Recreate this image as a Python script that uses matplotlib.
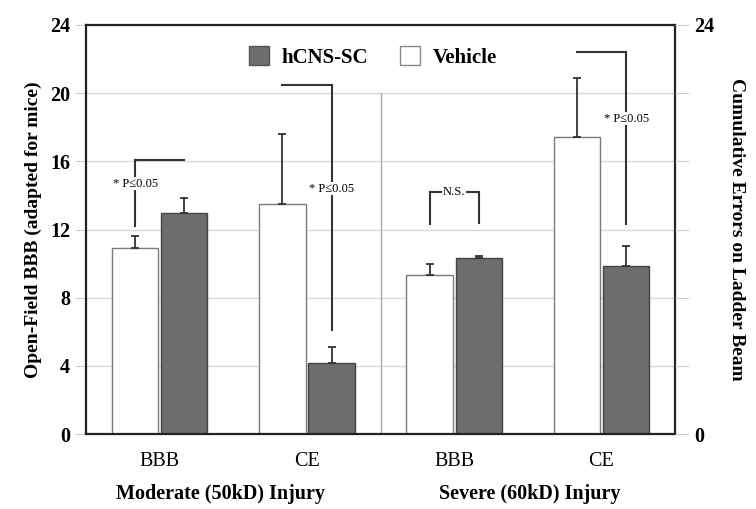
import numpy as np
import matplotlib
matplotlib.use("Agg")
import matplotlib.pyplot as plt
from matplotlib.patches import Patch

plt.rcParams['font.family'] = ['Liberation Serif', 'DejaVu Serif']

# data
tests = ["BBB", "CE", "BBB", "CE"]
injuries = ["Moderate (50kD) Injury", "Severe (60kD) Injury"]
injury_pos = [0.41, 2.515]
vehicle = [10.9, 13.5, 9.35, 17.4]
vehicle_err = [0.7, 4.1, 0.65, 3.5]
hcns = [13.0, 4.15, 10.35, 9.85]
hcns_err = [0.85, 0.95, 0.1, 1.2]

# significance brackets: (group, label, y of horizontal, y of left end, y of right end, y of text)
brackets = [
    (0, "* P\u22640.05", 16.1, 12.2, None, 14.7),
    (1, "* P\u22640.05", 20.5, None, 6.1, 14.4),
    (2, "N.S.", 14.2, 12.3, 12.4, 14.2),
    (3, "* P\u22640.05", 22.4, None, 12.3, 18.5),
]

GRAY = "#6d6d6d"
x = np.arange(len(tests))
w = 0.315
off = 0.167

fig, ax = plt.subplots(figsize=(7.56, 5.09), dpi=100)
fig.subplots_adjust(left=0.1138, right=0.893, top=0.951, bottom=0.147)

ax.set_axisbelow(True)
ax.yaxis.grid(True, color="#d9d9d9", linewidth=1.0)

ax.bar(x - off, vehicle, w, color="white", edgecolor="#7a7a7a", linewidth=1.0,
       yerr=[np.zeros(4), vehicle_err], capsize=3,
       error_kw=dict(ecolor="#333333", elinewidth=1.3, capthick=1.3))
ax.bar(x + off, hcns, w, color=GRAY, edgecolor="#444444", linewidth=1.0,
       yerr=[np.zeros(4), hcns_err], capsize=3,
       error_kw=dict(ecolor="#333333", elinewidth=1.3, capthick=1.3))

# separator between the two injury groups
ax.plot([1.5, 1.5], [0, 20], color="#aaaaaa", linewidth=1.0, zorder=1)

for g, lab, ytop, yl, yr, yt in brackets:
    xl, xr = g - off, g + off
    ax.plot([xl, xr], [ytop, ytop], color="#333333", linewidth=1.5)
    if yl is not None:
        ax.plot([xl, xl], [yl, ytop], color="#333333", linewidth=1.5)
    if yr is not None:
        ax.plot([xr, xr], [yr, ytop], color="#333333", linewidth=1.5)
    tx = g if lab == "N.S." else (xl if yl is not None else xr)
    ax.text(tx, yt, lab, ha="center", va="center", fontsize=9,
            bbox=dict(facecolor="white", edgecolor="none", pad=0.5))

ax.set_xlim(-0.5, 3.5)
ax.set_ylim(0, 24)
ax.set_yticks(np.arange(0, 25, 4))
ax.set_xticks(x)
ax.set_xticklabels(tests, fontsize=14.5)
ax.tick_params(axis="x", length=0, pad=13)
ax.tick_params(axis="y", direction="out", length=8, color="#d0d0d0", labelsize=14.5)
for t in ax.get_yticklabels():
    t.set_fontweight("bold")

for s in ax.spines.values():
    s.set_linewidth(1.6)
    s.set_color("#222222")

ax.set_ylabel("Open-Field BBB (adapted for mice)", fontsize=14, fontweight="bold", labelpad=6)

for name, pos in zip(injuries, injury_pos):
    ax.text(pos, -0.147, name, transform=ax.get_xaxis_transform(),
            ha="center", va="center", fontsize=14.5, fontweight="bold")

ax2 = ax.twinx()
ax2.set_ylim(0, 24)
ax2.set_yticks(np.arange(0, 25, 4))
ax2.set_yticklabels(["0", "", "", "", "", "", "24"])
ax2.tick_params(axis="y", direction="out", length=10, color="#d0d0d0", labelsize=14.5)
for t in ax2.get_yticklabels():
    t.set_fontweight("bold")
for s in ax2.spines.values():
    s.set_visible(False)
ax2.set_ylabel("Cumulative Errors on Ladder Beam", fontsize=14, fontweight="bold",
               rotation=-90, labelpad=22)

handles = [Patch(facecolor=GRAY, edgecolor="#555555", label="hCNS-SC"),
           Patch(facecolor="white", edgecolor="#888888", label="Vehicle")]
ax.legend(handles=handles, loc="center", bbox_to_anchor=(0.487, 0.922), ncol=2,
          frameon=False, prop=dict(weight="bold", size=15), handlelength=1.0,
          handleheight=1.0, columnspacing=1.5, handletextpad=0.6)

fig.savefig("out.png", dpi=100)
